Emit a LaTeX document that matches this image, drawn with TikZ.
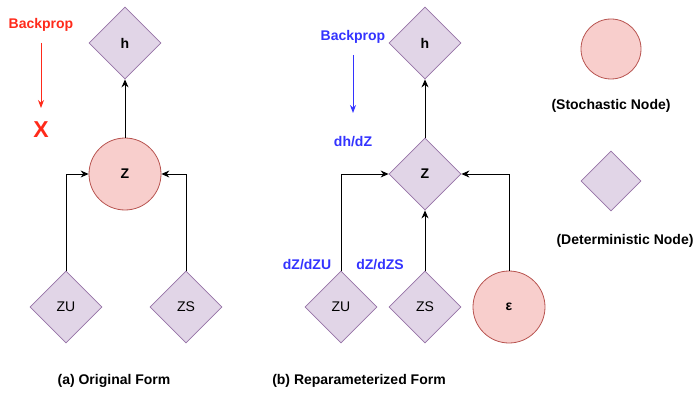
\documentclass[tikz,border=0pt]{standalone}
\usepackage{fontspec}
\setmainfont{Liberation Sans}
\usepackage{tikz}
\usetikzlibrary{shapes.geometric,arrows.meta}
\definecolor{detfill}{HTML}{E1D5E7}
\definecolor{detline}{HTML}{9673A6}
\definecolor{stofill}{HTML}{F8CECC}
\definecolor{stoline}{HTML}{B85450}
\definecolor{bpred}{HTML}{FF2A1A}
\definecolor{bpblue}{HTML}{3333FF}

\begin{document}
\begin{tikzpicture}[x=1pt,y=-1pt,
    font=\fontsize{14}{16}\selectfont,
    determ/.style={diamond,aspect=1,draw=detline,fill=detfill,line width=0.8pt,
      inner sep=0pt,minimum width=72pt,minimum height=72pt},
    stoch/.style={circle,draw=stoline,fill=stofill,line width=0.8pt,
      inner sep=0pt,minimum size=72pt},
    flow/.style={line width=1pt,-{Stealth[length=8pt,width=7pt]}},
    lbl/.style={font=\fontsize{14}{16}\selectfont\bfseries}]
    \useasboundingbox (0,0) rectangle (698,393);
    % (a) original form
            \node [determ,lbl] (ha) at (125,43) {h};
            \node [stoch,lbl] (za) at (125,174) {Z};
            \node [determ] (zua) at (66,307) {ZU};
            \node [determ] (zsa) at (186,307) {ZS};
            \draw [flow] (za) -- (ha);
            \draw [flow] (zua.north) |- (za.west);
            \draw [flow] (zsa.north) |- (za.east);
          \node [lbl,text=bpred] (bpa) at (41,25) {Backprop};
          \node [text=bpred,font=\fontsize{23}{26}\selectfont\bfseries] (xa) at (41,130) {X};
          \coordinate (bpas) at (41,43);
          \coordinate (bpae) at (41,108);
          \draw [line width=1pt,draw=bpred,-{Stealth[length=8pt,width=6pt]}] (bpas) -- (bpae);
          \node [lbl] (capa) at (114,381) {(a) Original Form};
    % (b) reparameterized form
            \node [determ,lbl] (hb) at (425,43) {h};
            \node [determ,lbl] (zb) at (425,174) {Z};
            \node [determ] (zub) at (341,307) {ZU};
            \node [determ] (zsb) at (425,307) {ZS};
            \node [stoch,lbl] (eps) at (509,307) {ε};
            \draw [flow] (zb) -- (hb);
            \draw [flow] (zub.north) |- (zb.west);
            \draw [flow] (zsb) -- (zb);
            \draw [flow] (eps.north) |- (zb.east);
          \node [lbl,text=bpblue] (bpb) at (353,37) {Backprop};
          \coordinate (bpbs) at (353,55);
          \coordinate (bpbe) at (353,113);
          \draw [line width=1pt,draw=bpblue,-{Stealth[length=8pt,width=6pt]}] (bpbs) -- (bpbe);
          \node [lbl,text=bpblue] (dhdz) at (353,142) {dh/dZ};
          \node [lbl,text=bpblue] (dzdzu) at (307,265) {dZ/dZU};
          \node [lbl,text=bpblue] (dzdzs) at (380,265) {dZ/dZS};
          \node [lbl] (capb) at (359,381) {(b) Reparameterized Form};
    % legend
            \node [stoch,minimum size=60pt] (legs) at (611,49) {};
            \node [lbl] (legst) at (611,106) {(Stochastic Node)};
            \node [determ,minimum width=60pt,minimum height=60pt] (legd) at (611,181) {};
            \node [lbl] (legdt) at (625,241) {(Deterministic Node)};
        \end{tikzpicture}
\end{document}
